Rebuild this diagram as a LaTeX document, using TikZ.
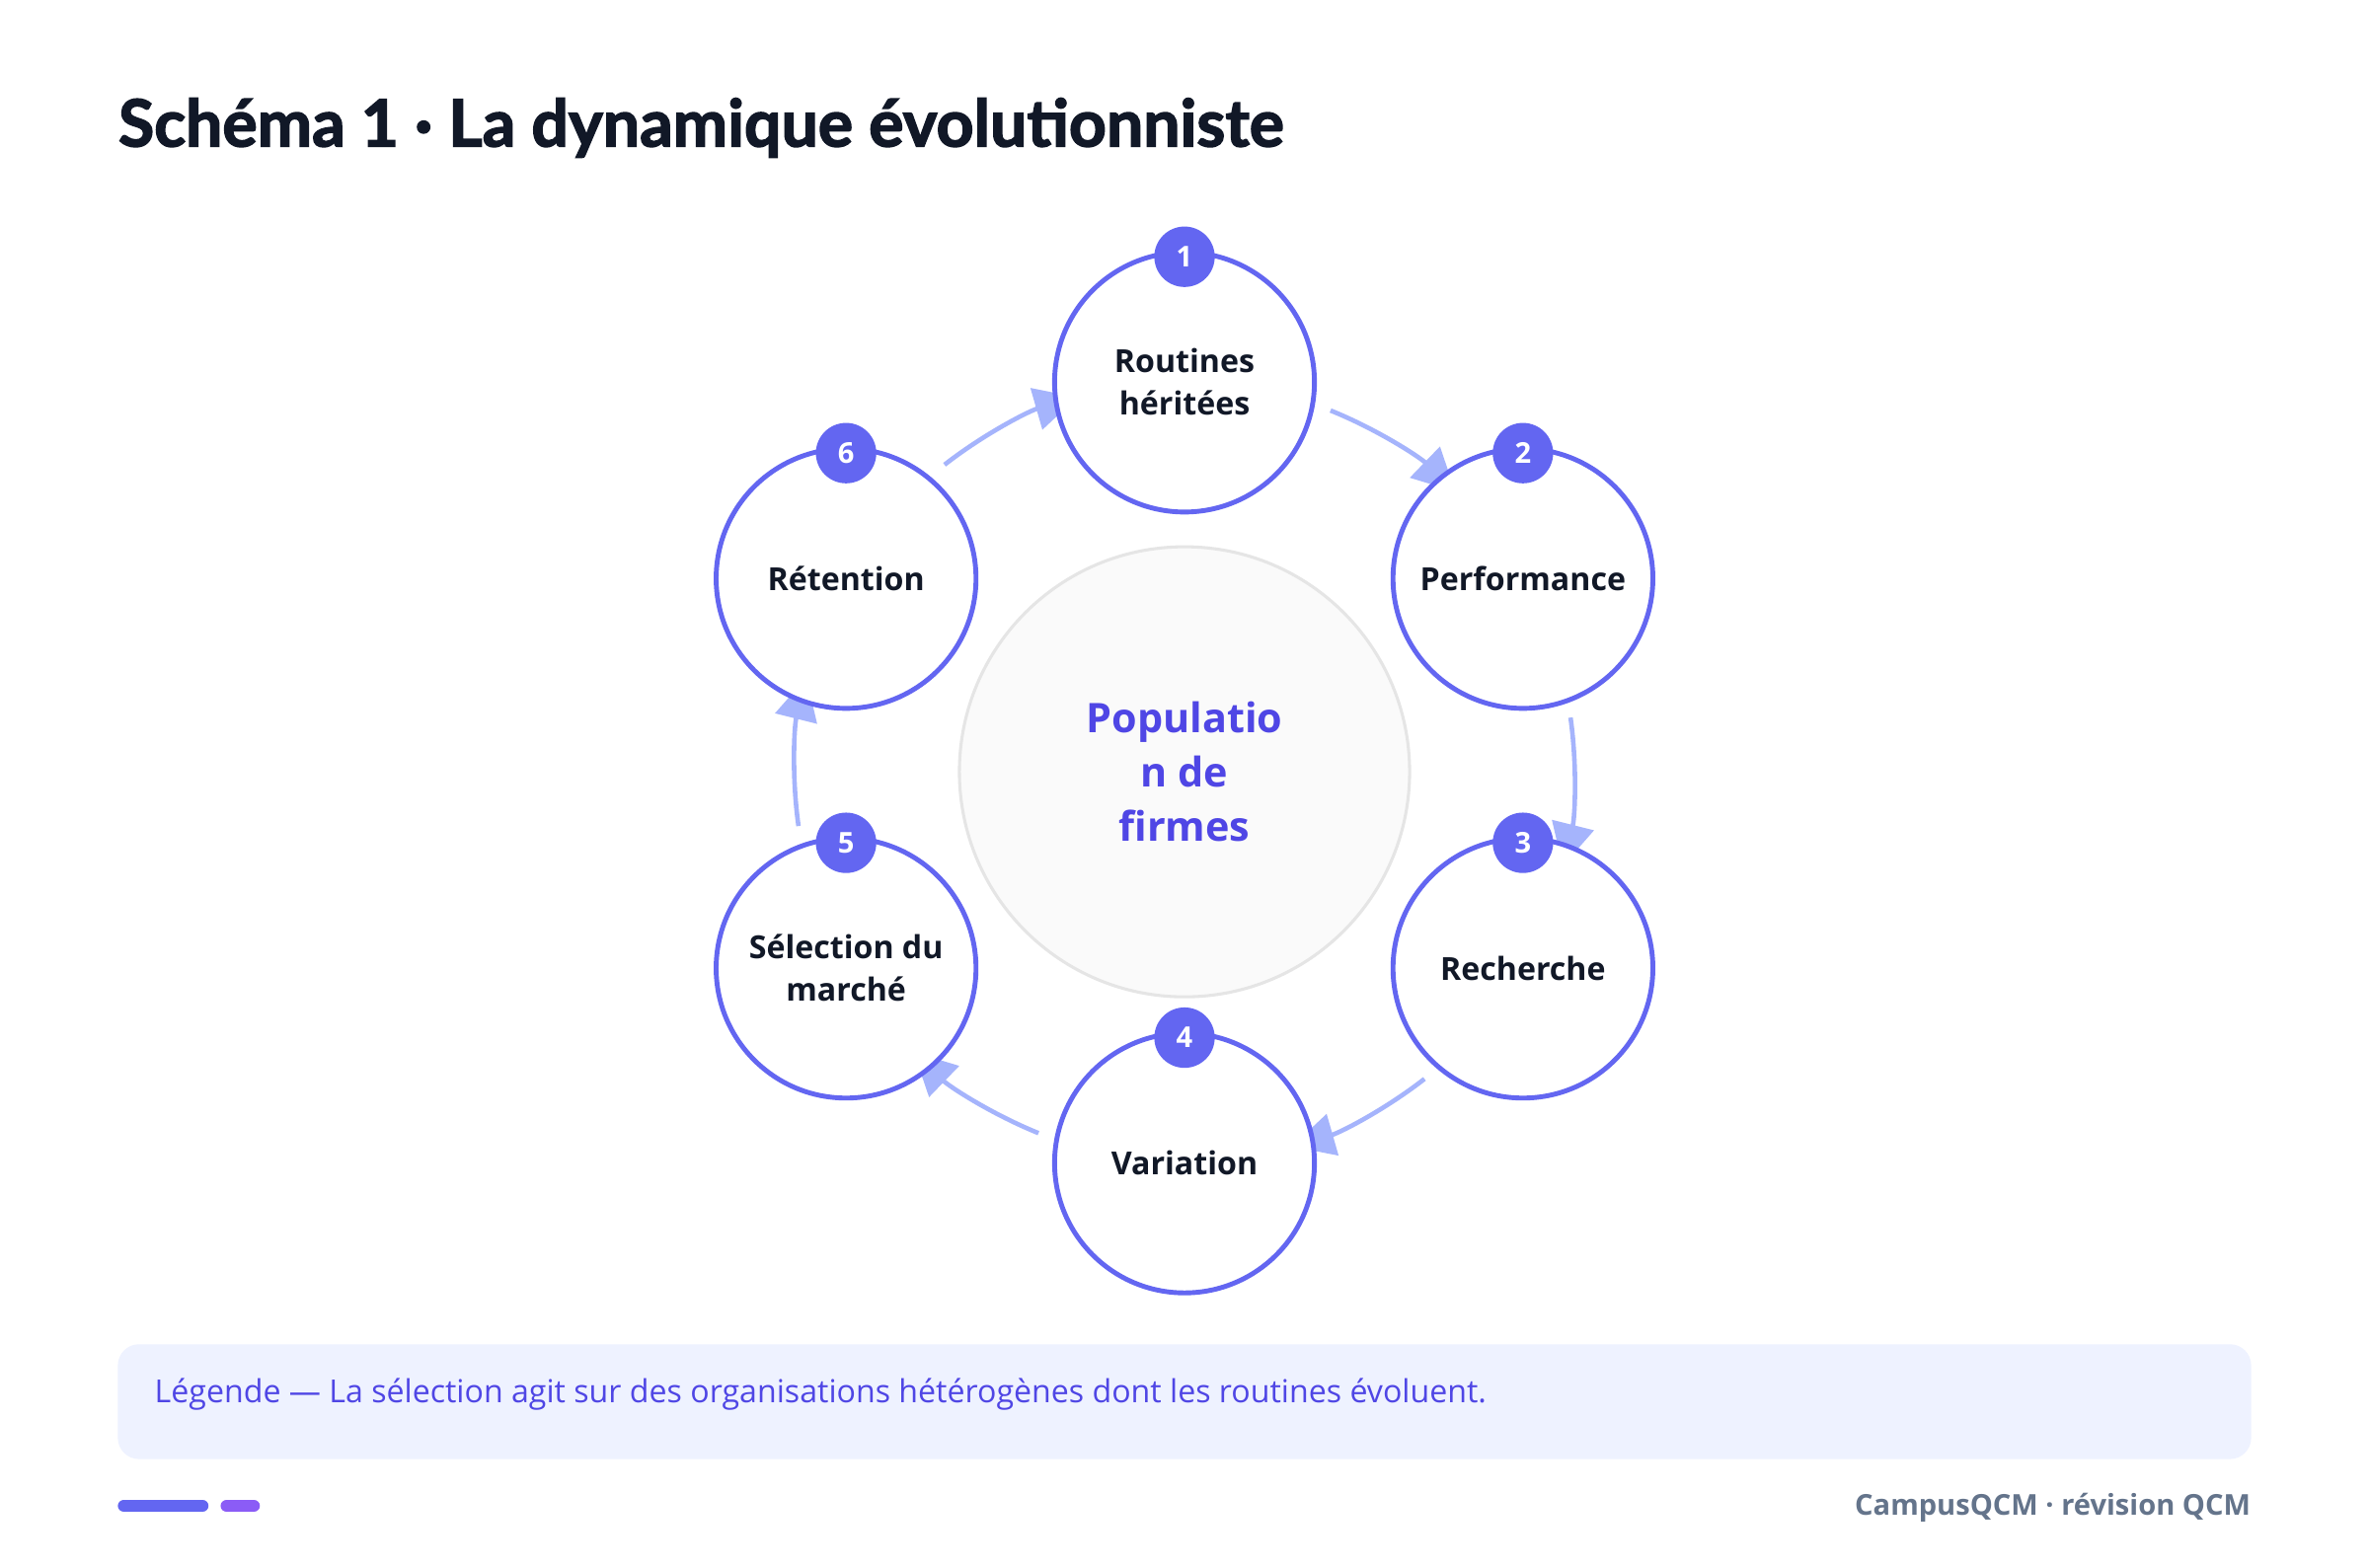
\documentclass[tikz,border=0pt]{standalone}
\usepackage{fontspec}
\setmainfont{Open Sans}
\newfontfamily\titlefont{Lato}[FakeBold=2.2]
\usetikzlibrary{arrows.meta,calc}
\definecolor{ind}{HTML}{6366F1}
\definecolor{indd}{HTML}{4F46E5}
\definecolor{arr}{HTML}{A5B4FC}
\definecolor{navy}{HTML}{111827}
\definecolor{grayt}{HTML}{64748B}
\definecolor{leg}{HTML}{EEF2FF}
\definecolor{vio}{HTML}{8B5CF6}
\begin{document}
\begin{tikzpicture}[x=0.5pt,y=-0.5pt,
  stage/.style={circle,draw=ind,line width=1.6pt,fill=white,minimum size=86pt,inner sep=0pt,align=center,font=\bfseries\fontsize{10.5}{14}\selectfont,text=navy},
  badge/.style={circle,fill=ind,minimum size=20pt,inner sep=0pt,text=white,font=\bfseries\fontsize{9.5}{10}\selectfont},
  link/.style={draw=arr,line width=1.5pt,-{Triangle[length=14pt,width=14pt]}}]
\useasboundingbox (0,0) rectangle (1568,1037.5);
\fill[white] (0,0) rectangle (1568,1037.5);
\node[anchor=base west,inner sep=0pt,font=\titlefont\bfseries\fontsize{21.6}{25}\selectfont,text=navy] (title) at (78,97) {Schéma 1 · La dynamique évolutionniste};
\node[circle,draw=black!10,line width=1pt,fill=black!2!white,minimum size=149pt,inner sep=0pt,align=center,text=indd,font=\bfseries\fontsize{13.5}{18}\selectfont] (c) at (784,511) {Populatio\\n de\\firmes};
\coordinate (O) at (784,511);
% arrows
\foreach \a/\b in {90/30,30/-30,-30/-90,-90/-150,-150/-210,150/90}{
  \draw[link] ($(O)+({258*cos(\a-22)},{-258*sin(\a-22)})$) arc[start angle=-(\a-22),end angle=-(\b+16),radius=258];
}
\node[stage] (s1) at (784,253) {Routines\\héritées};
\node[stage] (s2) at (1008,383) {Performance};
\node[stage] (s3) at (1008,641) {Recherche};
\node[stage] (s4) at (784,770) {Variation};
\node[stage] (s5) at (560,641) {Sélection du\\marché};
\node[stage] (s6) at (560,383) {Rétention};
\foreach \i in {1,...,6}{\node[badge] (b\i) at ([yshift=41.5pt]s\i.center) {\i};}
\fill[leg,rounded corners=7pt] (78,890) rectangle (1490,966);
\node[anchor=west,inner sep=0pt,text=indd,font=\fontsize{10.5}{12}\selectfont] (lg) at (102,923) {Légende — La sélection agit sur des organisations hétérogènes dont les routines évoluent.};
\draw[ind,line width=4pt,line cap=round] (82,997) -- (134,997);
\draw[vio,line width=4pt,line cap=round] (150,997) -- (168,997);
\node[anchor=east,inner sep=0pt,text=grayt,font=\bfseries\fontsize{9.5}{11}\selectfont] (ft) at (1490,998) {CampusQCM · révision QCM};
\end{tikzpicture}
\end{document}
